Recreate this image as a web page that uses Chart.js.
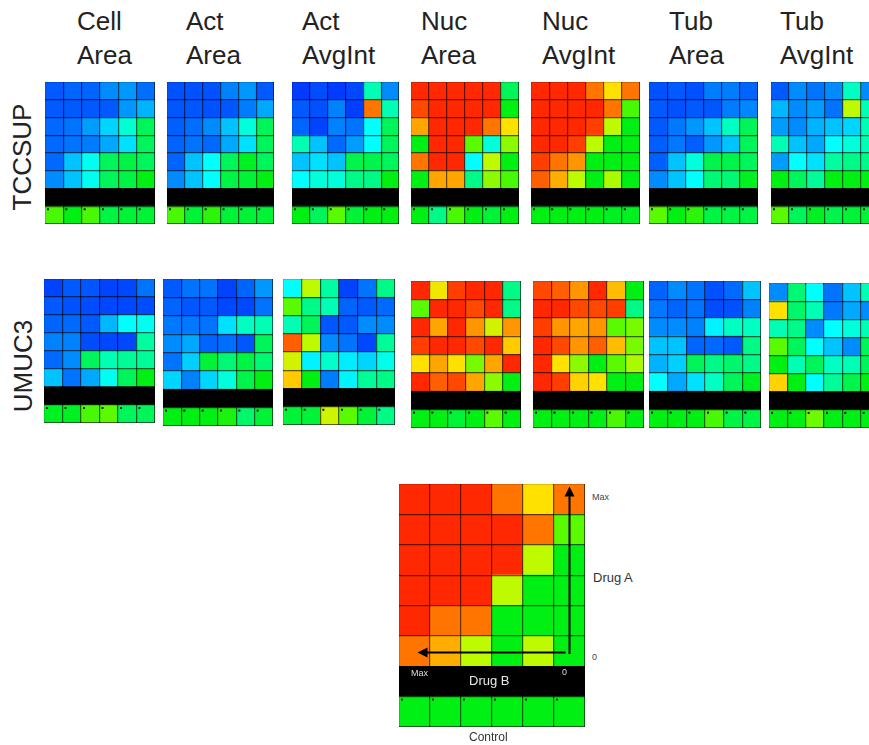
<!DOCTYPE html>
<html>
<head>
<meta charset="utf-8">
<script src="https://cdn.jsdelivr.net/npm/chart.js@4"></script>
<style>
  body { margin: 0; width: 869px; height: 745px; overflow: hidden; background: #fff; position: relative;
         font-family: "Liberation Sans", Arial, sans-serif; color: #222; }
  .hm { position: absolute; z-index: 1; }
  .title { position: absolute; top: 4px; font-size: 26px; line-height: 34px; white-space: pre; }
  .rowlab { position: absolute; width: 120px; height: 30px; line-height: 30px; font-size: 26px;
            text-align: center; transform: rotate(-90deg); }
  .small { position: absolute; z-index: 3; font-size: 9px; color: #444; white-space: nowrap; }
  .mid { position: absolute; z-index: 3; font-size: 13px; color: #333; white-space: nowrap; }
</style>
</head>
<body>
<div class="title" style="left:77px">Cell
Area</div>
<div class="title" style="left:186px">Act
Area</div>
<div class="title" style="left:302px">Act
AvgInt</div>
<div class="title" style="left:421px">Nuc
Area</div>
<div class="title" style="left:542px">Nuc
AvgInt</div>
<div class="title" style="left:669px">Tub
Area</div>
<div class="title" style="left:780px">Tub
AvgInt</div>
<div class="rowlab" style="left:-38px;top:142px">TCCSUP</div>
<div class="rowlab" style="left:-37px;top:351px">UMUC3</div>

<div class="small" style="left:592px;top:492px">Max</div>
<div class="mid" style="left:593px;top:570px">Drug A</div>
<div class="small" style="left:592px;top:652px">0</div>
<div class="small" style="left:411px;top:668px;color:#ddd">Max</div>
<div class="small" style="left:562px;top:667px;color:#ddd">0</div>
<div class="mid" style="left:469px;top:673px;color:#e8e8e8">Drug B</div>
<div class="mid" style="left:469px;top:730px;font-size:12px">Control</div>

<script>
// drug B dose columns (hidden labels)
const doseCols = ['1', '2', '3', '4', '5', '6'];

// colour scale 0 (blue) .. 12 (red); each heatmap row is listed top (max drug A) to bottom
const tccsupCellArea = [
  [1, 1.2, 1.2, 2, 2.2, 1.4],
  [1, 1, 1, 1, 2.2, 2.7],
  [1.3, 1.5, 2.3, 3.3, 4.6, 6],
  [1.3, 1.5, 1.7, 2.5, 3.5, 6],
  [1.3, 3, 4.2, 6, 6.3, 6],
  [2, 3, 4.2, 6, 6.3, 7]
];
const tccsupCellAreaCtrl = [7.8, 7, 7.8, 6.3, 6.5, 6.5];

const tccsupActArea = [
  [0.8, 0.8, 0.8, 1.8, 2.2, 1],
  [0.9, 0.9, 0.8, 0.9, 1.7, 2.5],
  [1.1, 1.4, 2, 3, 4.5, 6],
  [1.2, 1.5, 1.3, 2.5, 3.5, 6],
  [1.2, 3, 4, 6, 6.8, 6],
  [2, 3, 4, 6.3, 6.5, 7]
];
const tccsupActAreaCtrl = [7.8, 6.5, 7.5, 6.5, 6.5, 6.5];

const tccsupActAvgInt = [
  [0.3, 0.7, 0.3, 0.6, 5, 2],
  [1, 0.8, 1.8, 0.4, 11.3, 5],
  [1.2, 0.5, 1.8, 1.5, 4, 6],
  [5, 3, 1.3, 2.3, 4, 6],
  [3, 3.5, 3, 6.2, 6.2, 6],
  [4, 4.5, 4.5, 5.5, 5.5, 7]
];
const tccsupActAvgIntCtrl = [7, 6, 8, 6.5, 7, 7];

const tccsupNucArea = [
  [12, 12, 12, 12, 12, 6],
  [11.7, 12, 12, 12, 12, 7],
  [10.8, 12, 12, 12, 11.3, 10],
  [7, 12, 12, 8, 4.5, 8.5],
  [11.3, 12, 12, 4, 9, 7],
  [7, 10.8, 10.8, 5.5, 8.5, 7.8]
];
const tccsupNucAreaCtrl = [7, 5.5, 7.8, 7, 6.5, 7];

const tccsupNucAvgInt = [
  [12, 12, 12, 11.3, 10, 11.3],
  [12, 12, 12, 12, 11.3, 7.8],
  [12, 12, 12, 11.8, 9, 7],
  [12, 12, 11.8, 9, 7, 7],
  [11.8, 11.3, 11, 7, 7, 7],
  [11.5, 10.7, 9, 7, 8.8, 7]
];
const tccsupNucAvgIntCtrl = [7, 7, 7, 7, 6.8, 6.8];

const tccsupTubArea = [
  [0.8, 1, 0.8, 1.7, 1.7, 1.2],
  [1, 0.8, 1, 0.9, 1.7, 1.9],
  [1, 1.6, 2.2, 3, 4.8, 6],
  [1.1, 1.6, 1.1, 2.2, 3, 6],
  [1.1, 3, 4.5, 6.2, 6.2, 6],
  [2, 3, 4, 5.7, 5.7, 6.8]
];
const tccsupTubAreaCtrl = [8, 7, 7.5, 6.3, 6.3, 6.3];

const tccsupTubAvgInt = [
  [1, 2, 1.5, 2, 4.8, 2],
  [2.8, 2, 2.3, 1.5, 9, 5],
  [2.3, 2, 2.7, 3, 3.3, 5],
  [5, 3, 2.5, 4, 4.5, 5],
  [2.3, 4, 3.5, 5.2, 5.5, 5.5],
  [7, 6, 5.3, 7, 7, 7]
];
const tccsupTubAvgIntCtrl = [8, 6, 6.8, 6.2, 6.5, 6.5];

const umuc3CellArea = [
  [0.5, 1, 0.9, 0.5, 0.6, 1.5],
  [1, 0.8, 0.7, 0.6, 0.6, 0.7],
  [1.2, 1.3, 1, 2.8, 4, 4.2],
  [1.8, 1.8, 0.7, 0.6, 0.6, 5.2],
  [1.3, 2, 6, 5, 5.3, 5.3],
  [3, 1.5, 2.5, 4.2, 6, 7]
];
const umuc3CellAreaCtrl = [6.8, 6.8, 7.8, 8, 6, 6];

const umuc3ActArea = [
  [1, 1.5, 1.5, 0.5, 1.2, 2.2],
  [1.2, 0.9, 1, 0.6, 0.6, 1.5],
  [1.6, 1.6, 1.5, 3.5, 4.8, 5],
  [2, 2.5, 1.2, 1.4, 0.9, 6],
  [1.5, 3.2, 6.5, 5.7, 6.3, 5.7],
  [3.3, 1.8, 3.3, 4.5, 6.2, 7]
];
const umuc3ActAreaCtrl = [7, 7, 7, 7.3, 5.8, 6.5];

const umuc3ActAvgInt = [
  [4, 9, 5.2, 0.5, 1.5, 5.5],
  [8, 5.5, 5, 1.2, 1, 1.3],
  [5, 6, 0.9, 1, 2, 2],
  [11.5, 9, 2, 1.5, 0.6, 5.3],
  [9.3, 3.8, 4.7, 3.7, 3.3, 4.3],
  [10.3, 7, 1.7, 3.8, 5.3, 5.5]
];
const umuc3ActAvgIntCtrl = [6.5, 6.5, 9.2, 8, 6.5, 5.5];

const umuc3NucArea = [
  [12, 9.8, 11.8, 12, 12, 5.5],
  [8, 12, 12, 11.7, 12, 5.5],
  [12, 10.8, 12, 11, 9.3, 11],
  [11.8, 12, 12, 11.7, 12, 10.3],
  [10, 10.8, 10, 8.3, 10.8, 12],
  [12, 11.5, 11.7, 10.8, 8.5, 7]
];
const umuc3NucAreaCtrl = [7, 7, 6.5, 7, 8, 7];

const umuc3NucAvgInt = [
  [11.7, 11.5, 11, 12, 10.5, 7],
  [12, 12, 11.7, 11.7, 11.8, 5.5],
  [11.8, 11, 10.8, 11, 8, 8.3],
  [12, 11.7, 11, 11.5, 10.5, 8.3],
  [12, 10, 8.5, 7, 8, 8.8],
  [12, 11.8, 10.2, 10, 7, 7]
];
const umuc3NucAvgIntCtrl = [7, 7, 7, 7, 7.8, 7];

const umuc3TubArea = [
  [1.2, 2, 1.5, 0.8, 1.3, 3],
  [1.6, 1.2, 1.5, 0.7, 0.8, 1.8],
  [2, 2, 1.8, 3.8, 4.8, 4.8],
  [3, 3, 1.2, 1.3, 1, 5.5],
  [2.7, 3.2, 6, 5.5, 5.8, 5.5],
  [4, 2.5, 3.5, 4.8, 6, 6.8]
];
const umuc3TubAreaCtrl = [7, 7, 7, 7.8, 6.3, 6.3];

const umuc3TubAvgInt = [
  [2, 5.7, 4, 1.5, 3, 5],
  [10, 5.8, 5, 1.6, 2.5, 2],
  [5, 5.5, 2, 4, 4.5, 5],
  [8, 6, 4, 3, 2, 6],
  [7, 5, 6, 4.8, 5, 6],
  [10.2, 7, 4, 5.3, 6.2, 7]
];
const umuc3TubAvgIntCtrl = [7, 7, 8.2, 7, 7, 7];

const keyGrid = [
  [12, 12, 12, 11.3, 10, 11.3],
  [12, 12, 12, 12, 11.3, 8],
  [12, 12, 12, 12, 9, 7],
  [12, 12, 12, 9, 7, 7],
  [12, 11.3, 11.3, 7, 7, 7],
  [11.3, 10.7, 9, 7, 9, 7]
];
const keyGridCtrl = [7, 7, 7, 7, 7, 7];

// colour ramp, blue -> cyan -> green -> yellow -> red
const colorStops = [
  [0, 45, 255], [0, 90, 255], [0, 140, 255], [0, 195, 255], [0, 255, 255],
  [0, 255, 180], [0, 245, 90], [0, 240, 20], [90, 250, 0], [190, 250, 0],
  [255, 225, 0], [255, 150, 0], [255, 40, 0]
];

function heatColor(v) {
  v = Math.max(0, Math.min(12, v));
  const i = Math.min(11, Math.floor(v));
  const t = v - i;
  const a = colorStops[i], b = colorStops[i + 1];
  const c = a.map((x, k) => Math.round(x + (b[k] - x) * t));
  return 'rgb(' + c.join(',') + ')';
}

const ctrlDots = {
  id: 'ctrlDots',
  afterDatasetsDraw(chart) {
    const ctx = chart.ctx;
    ctx.save();
    ctx.fillStyle = '#111';
    chart.getDatasetMeta(0).data.forEach(function (bar) {
      const p = bar.getProps(['x', 'y', 'width'], true);
      ctx.fillRect(p.x - p.width / 2 + 2, p.y + 2, 2, 2);
    });
    ctx.restore();
  }
};

const keyArrows = {
  id: 'keyArrows',
  afterDatasetsDraw(chart) {
    const ctx = chart.ctx;
    const xs = chart.scales.x, ys = chart.scales.y;
    const xr = xs.getPixelForValue(5), xl = xs.getPixelForValue(0);
    const yb = ys.getPixelForValue(2.4), yt = ys.getPixelForValue(7.92), yh = ys.getPixelForValue(2.45);
    ctx.save();
    ctx.strokeStyle = '#000';
    ctx.fillStyle = '#000';
    ctx.lineWidth = 2;
    ctx.beginPath();
    ctx.moveTo(xr, yb); ctx.lineTo(xr, yt + 8);
    ctx.moveTo(xr - 4, yh); ctx.lineTo(xl + 12, yh);
    ctx.stroke();
    ctx.beginPath();
    ctx.moveTo(xr, yt); ctx.lineTo(xr - 5, yt + 10); ctx.lineTo(xr + 5, yt + 10); ctx.closePath();
    ctx.moveTo(xl + 3, yh); ctx.lineTo(xl + 13, yh - 5); ctx.lineTo(xl + 13, yh + 5); ctx.closePath();
    ctx.fill();
    ctx.restore();
  }
};

function makeHeatmap(box, rows, ctrl, extra) {
  const div = document.createElement('div');
  div.className = 'hm';
  div.style.left = box[0] + 'px';
  div.style.top = box[1] + 'px';
  const canvas = document.createElement('canvas');
  canvas.width = box[2];
  canvas.height = box[3];
  div.appendChild(canvas);
  document.body.appendChild(div);

  const ones = doseCols.map(() => 1);
  const datasets = [
    { data: ones, backgroundColor: ctrl.map(heatColor) },
    { data: ones, backgroundColor: '#000' }
  ];
  rows.slice().reverse().forEach(function (r) {
    datasets.push({ data: ones, backgroundColor: r.map(heatColor) });
  });
  datasets.forEach(function (d) {
    d.barPercentage = 1;
    d.categoryPercentage = 1;
    d.borderWidth = 0;
  });

  const gridOpts = { color: 'rgba(0,0,0,0.6)', lineWidth: 1.2, drawTicks: false, z: 1 };
  new Chart(canvas.getContext('2d'), {
    type: 'bar',
    data: { labels: doseCols, datasets: datasets },
    options: {
      responsive: false,
      animation: false,
      devicePixelRatio: 1,
      layout: { padding: 0 },
      plugins: { legend: { display: false }, tooltip: { enabled: false } },
      scales: {
        x: { stacked: true, offset: true, ticks: { display: false }, border: { display: false },
             grid: Object.assign({ offset: true }, gridOpts) },
        y: { stacked: true, min: 0, max: 8, ticks: { display: false, stepSize: 1 }, border: { display: false },
             grid: gridOpts }
      }
    },
    plugins: [ctrlDots].concat(extra || [])
  });
}

// [left, top, width, height]
makeHeatmap([45, 82, 110, 142], tccsupCellArea, tccsupCellAreaCtrl);
makeHeatmap([167, 82, 107, 142], tccsupActArea, tccsupActAreaCtrl);
makeHeatmap([292, 82, 107, 142], tccsupActAvgInt, tccsupActAvgIntCtrl);
makeHeatmap([411, 82, 108, 142], tccsupNucArea, tccsupNucAreaCtrl);
makeHeatmap([531, 82, 109, 142], tccsupNucAvgInt, tccsupNucAvgIntCtrl);
makeHeatmap([649, 82, 109, 142], tccsupTubArea, tccsupTubAreaCtrl);
makeHeatmap([771, 82, 108, 142], tccsupTubAvgInt, tccsupTubAvgIntCtrl);

makeHeatmap([44, 279, 111, 144], umuc3CellArea, umuc3CellAreaCtrl);
makeHeatmap([163, 279, 110, 147], umuc3ActArea, umuc3ActAreaCtrl);
makeHeatmap([283, 279, 112, 146], umuc3ActAvgInt, umuc3ActAvgIntCtrl);
makeHeatmap([411, 281, 110, 147], umuc3NucArea, umuc3NucAreaCtrl);
makeHeatmap([533, 281, 111, 147], umuc3NucAvgInt, umuc3NucAvgIntCtrl);
makeHeatmap([649, 281, 112, 147], umuc3TubArea, umuc3TubAreaCtrl);
makeHeatmap([769, 283, 110, 145], umuc3TubAvgInt, umuc3TubAvgIntCtrl);

makeHeatmap([399, 484, 186, 243], keyGrid, keyGridCtrl, [keyArrows]);
</script>
</body>
</html>
